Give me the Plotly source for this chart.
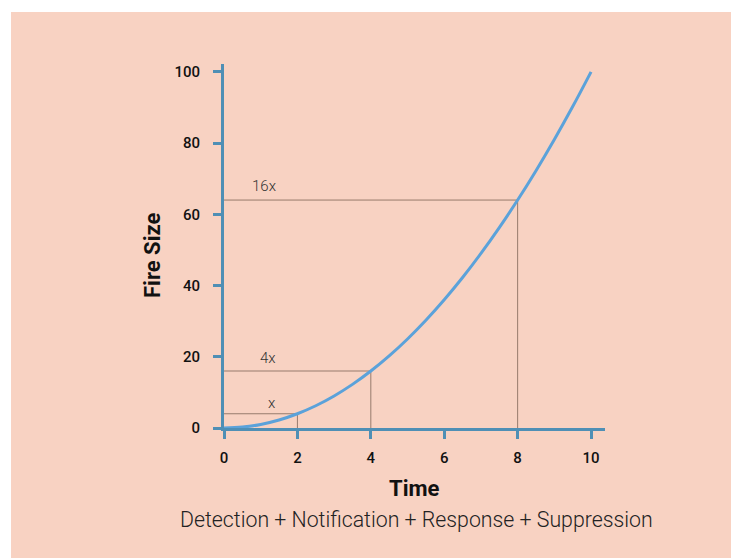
import plotly.graph_objects as go

# data
time_values = [0, 0.5, 1, 1.5, 2, 2.5, 3, 3.5, 4, 4.5, 5, 5.5, 6, 6.5, 7, 7.5, 8, 8.5, 9, 9.5, 10]
fire_size = [0, 0.25, 1, 2.25, 4, 6.25, 9, 12.25, 16, 20.25, 25, 30.25, 36, 42.25, 49, 56.25, 64, 72.25, 81, 90.25, 100]
marker_times = [2, 4, 8]
marker_sizes = [4, 16, 64]
marker_labels = ["x", "4x", "16x"]
x_ticks = [0, 2, 4, 6, 8, 10]
y_ticks = [0, 20, 40, 60, 80, 100]

PEACH = "#F8D2C2"
AXIS = "#4F8FB5"
CURVE = "#5BA2DA"
REF = "#977B6C"

fig = go.Figure()

# reference lines
for t, s in zip(marker_times, marker_sizes):
    fig.add_trace(go.Scatter(x=[0, t, t], y=[s, s, 0], mode="lines",
                             line=dict(color=REF, width=1), hoverinfo="skip", showlegend=False))

fig.add_trace(go.Scatter(x=time_values, y=fire_size, mode="lines", line=dict(color=CURVE, width=3, shape="spline"),
                         showlegend=False))

label_pos = [(1.3, 7.0), (1.2, 19.7), (1.1, 68.0)]
for (lx, ly), lab in zip(label_pos, marker_labels):
    fig.add_annotation(x=lx, y=ly, text=lab, showarrow=False,
                       font=dict(family="Roboto", size=15, color="#333333", weight=300))

fig.add_shape(type="rect", xref="paper", yref="paper", x0=-0.559, x1=1.4, y0=-0.45, y1=1.143,
              fillcolor=PEACH, line=dict(width=0), layer="below")

fig.add_annotation(xref="paper", yref="paper", x=(414 - 224) / 381, y=(428 - 488) / 364, text="<b>Time</b>",
                   showarrow=False, xanchor="center", yanchor="middle",
                   font=dict(family="Roboto", size=22, color="#111111"))
fig.add_annotation(xref="paper", yref="paper", x=(416 - 224) / 381, y=(428 - 519) / 364,
                   text="Detection + Notification + Response + Suppression", showarrow=False,
                   xanchor="center", yanchor="middle",
                   font=dict(family="Roboto", size=21.3, color="#222222", weight=300))
fig.add_annotation(xref="paper", yref="paper", x=(152 - 224) / 381, y=(428 - 256) / 364,
                   text="<b>Fire Size</b>", showarrow=False, textangle=-90,
                   xanchor="center", yanchor="middle", font=dict(family="Roboto", size=22, color="#111111"))

fig.update_xaxes(range=[0, 10.38], tickvals=x_ticks, ticktext=[str(v) for v in x_ticks],
                 showgrid=False, zeroline=False, showline=True, linecolor=AXIS, linewidth=3,
                 ticks="outside", ticklen=8, tickwidth=3, tickcolor=AXIS, ticklabelstandoff=6,
                 tickfont=dict(family="Roboto", size=15, color="#111111", weight=500))
fig.update_yaxes(range=[0, 102.2], tickvals=y_ticks, ticktext=[str(v) for v in y_ticks],
                 showgrid=False, zeroline=False, showline=True, linecolor=AXIS, linewidth=3,
                 ticks="outside", ticklen=8, tickwidth=3, tickcolor=AXIS, ticklabelstandoff=10,
                 tickfont=dict(family="Roboto", size=15, color="#111111", weight=500))

fig.update_layout(width=731, height=558, margin=dict(l=224, r=126, t=64, b=130),
                  paper_bgcolor="white", plot_bgcolor="rgba(0,0,0,0)", showlegend=False)

fig.write_html("out.html", config={"displayModeBar": False},
               post_script="document.body.style.margin='0';document.body.style.overflow='hidden';")
